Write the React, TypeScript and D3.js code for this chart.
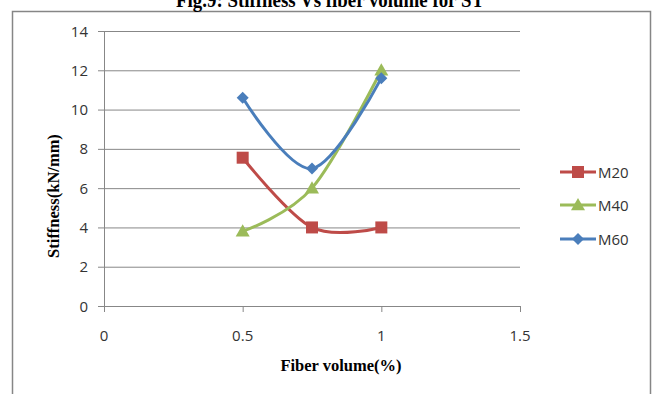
import React from "react";
import * as d3 from "d3";

// Fiber volume (%) on x, stiffness (kN/mm) on y
const fiberVolume = [0.5, 0.75, 1.0];
const m20 = [7.55, 4.0, 4.0];
const m40 = [3.8, 6.0, 12.0];
const m60 = [10.6, 7.0, 11.6];
const seriesNames = ["M20", "M40", "M60"];
const xTicks = [0, 0.5, 1, 1.5];
const yTicks = [0, 2, 4, 6, 8, 10, 12, 14];

const W = 654;
const H = 394;
const plot = { left: 104, right: 520, top: 31, bottom: 306 };
const colors = ["#BE4B48", "#9BBB59", "#4A7EBB"];
const tickFont = "'Open Sans', 'Liberation Sans', sans-serif";
const serif = "'Liberation Serif', 'DejaVu Serif', serif";

function Marker({ kind, x, y, color }: { kind: number; x: number; y: number; color: string }) {
  if (kind === 0) {
    return <rect x={x - 6} y={y - 6} width={12} height={12} fill={color} />;
  }
  if (kind === 1) {
    const s = 7;
    return (
      <path
        d={`M${x},${y - s} L${x + s},${y + s * 0.75} L${x - s},${y + s * 0.75} Z`}
        fill={color}
      />
    );
  }
  const s = 6;
  return <path d={`M${x},${y - s} L${x + s},${y} L${x},${y + s} L${x - s},${y} Z`} fill={color} />;
}

export default function App() {
  const x = d3.scaleLinear().domain([0, 1.5]).range([plot.left, plot.right]);
  const y = d3.scaleLinear().domain([0, 14]).range([plot.bottom, plot.top]);
  const line = d3
    .line<[number, number]>()
    .x((d) => x(d[0]))
    .y((d) => y(d[1]))
    .curve(d3.curveCardinal.tension(0));

  const allSeries = [m20, m40, m60];
  const legendY = [172, 205, 239];

  return (
    <svg
      width={W}
      height={H}
      style={{ position: "absolute", left: 0, top: 0, background: "#fff" }}
    >
      {/* chart frame */}
      <rect x={12.5} y={11.5} width={638} height={390} fill="none" stroke="#868686" strokeWidth={1.5} />

      {/* title */}
      <text
        x={330}
        y={7}
        textAnchor="middle"
        fontFamily={serif}
        fontWeight="bold"
        fontSize={20}
        textLength={308}
        lengthAdjust="spacingAndGlyphs"
        fill="#000"
      >
        Fig.9: Stiffness Vs fiber volume for ST
      </text>

      {/* gridlines */}
      {yTicks.map((t) => (
        <line key={t} x1={plot.left - 6} x2={plot.right} y1={y(t) + 0.5} y2={y(t) + 0.5} stroke="#878787" strokeWidth={1} />
      ))}
      {/* axes */}
      <line x1={plot.left + 0.5} x2={plot.left + 0.5} y1={plot.top} y2={plot.bottom} stroke="#878787" />
      {xTicks.map((t) => (
        <line key={t} x1={x(t) + 0.5} x2={x(t) + 0.5} y1={plot.bottom} y2={plot.bottom + 6} stroke="#878787" />
      ))}

      {/* tick labels */}
      {yTicks.map((t) => (
        <text key={t} x={plot.left - 16} y={y(t) + 5.5} textAnchor="end" fontFamily={tickFont} fontSize={15} fill="#333">
          {t}
        </text>
      ))}
      {xTicks.map((t) => (
        <text key={t} x={x(t)} y={plot.bottom + 35} textAnchor="middle" fontFamily={tickFont} fontSize={15} fill="#333">
          {t}
        </text>
      ))}

      {/* axis titles */}
      <text x={341} y={371} textAnchor="middle" fontFamily={serif} fontWeight="bold" fontSize={16.5} fill="#000">
        Fiber volume(%)
      </text>
      <text
        transform={`translate(59, 196) rotate(-90)`}
        textAnchor="middle"
        fontFamily={serif}
        fontWeight="bold"
        fontSize={16.5}
        fill="#000"
      >
        Stiffness(kN/mm)
      </text>

      {/* series */}
      {allSeries.map((vals, i) => {
        const pts = fiberVolume.map((fv, j) => [fv, vals[j]] as [number, number]);
        return (
          <g key={i}>
            <path d={line(pts) ?? ""} fill="none" stroke={colors[i]} strokeWidth={3} strokeLinejoin="round" strokeLinecap="round" />
            {pts.map((p, j) => (
              <Marker key={j} kind={i} x={x(p[0])} y={y(p[1])} color={colors[i]} />
            ))}
          </g>
        );
      })}

      {/* legend */}
      {seriesNames.map((name, i) => (
        <g key={name}>
          <line x1={560} x2={596} y1={legendY[i]} y2={legendY[i]} stroke={colors[i]} strokeWidth={3} />
          <Marker kind={i} x={578} y={legendY[i]} color={colors[i]} />
          <text x={598} y={legendY[i] + 5.5} fontFamily={tickFont} fontSize={15} fill="#333">
            {name}
          </text>
        </g>
      ))}
    </svg>
  );
}
